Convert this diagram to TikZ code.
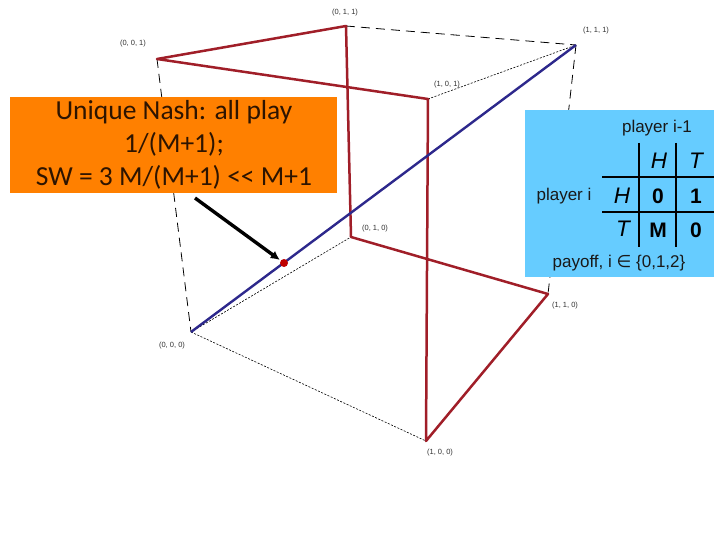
\documentclass[tikz,border=0pt]{standalone}
\usepackage{fontspec}
\usetikzlibrary{arrows.meta}
\setmainfont{Liberation Sans}
\newfontfamily\calib{Carlito}
\tikzset{
  dashe/.style={draw=black,line width=0.8pt,dash pattern=on 9pt off 6pt},
  dote/.style={draw=black,line width=0.6pt,dash pattern=on 2pt off 1.5pt},
  vlab/.style={font=\fontsize{7.5}{8}\selectfont,text=black!80,inner sep=0pt},
  tline/.style={draw=black,line width=2.3pt},
  cell/.style={inner sep=0pt,anchor=center},
  bcell/.style={cell,font=\fontsize{21}{22}\selectfont\bfseries},
  itcell/.style={cell,font=\fontsize{22.5}{24}\selectfont\itshape},
  ptxt/.style={font=\fontsize{17}{19}\selectfont,inner sep=0pt,text=black!90}
}
\definecolor{edgeRed}{RGB}{160,30,40}
\definecolor{edgeBlue}{RGB}{45,40,140}
\definecolor{boxOrange}{RGB}{255,128,0}
\definecolor{boxBlue}{RGB}{102,204,255}
\definecolor{noteInk}{RGB}{45,20,0}
\begin{document}
\begin{tikzpicture}[x=1pt,y=-1pt]
\useasboundingbox[fill=white] (0,0) rectangle (720,540);
\coordinate (A) at (157,59);
\coordinate (B) at (346,26);
\coordinate (C) at (576,45);
\coordinate (D) at (428,99);
\coordinate (E) at (351,237);
\coordinate (F) at (548,294);
\coordinate (G) at (426,441);
\coordinate (O) at (191,332);
% thin box edges
\draw[dashe] (A) -- (O);
\draw[dashe] (B) -- (C);
\draw[dashe] (C) -- (F);
\draw[dote] (D) -- (C);
\draw[dote] (O) -- (E);
\draw[dote] (O) -- (G);
% red edges
\draw[draw=edgeRed,line width=2.5pt,line join=round] (A) -- (B) -- (E) -- (F) -- (G) -- (D) -- cycle;
% blue diagonal
\draw[draw=edgeBlue,line width=2.4pt] (O) -- (C);
% vertex labels
\node[vlab] (lB) at (345,13) {(0, 1, 1)};
\node[vlab] (lC) at (596,31) {(1, 1, 1)};
\node[vlab] (lA) at (133,44) {(0, 0, 1)};
\node[vlab] (lD) at (447,85) {(1, 0, 1)};
\node[vlab] (lE) at (375,229) {(0, 1, 0)};
\node[vlab] (lF) at (565,306) {(1, 1, 0)};
\node[vlab] (lO) at (172,346) {(0, 0, 0)};
\node[vlab] (lG) at (440,453) {(1, 0, 0)};
% orange box
\node[fill=boxOrange,minimum width=327pt,minimum height=96pt,inner sep=0pt,anchor=north west] (note) at (10,97) {};
\node[font=\calib\fontsize{27.5}{33.2}\selectfont,align=center,inner sep=0pt,text=noteInk] (notetxt) at (174,145) {Unique Nash: all play\\1/(M+1);\\SW = 3 M/(M+1) << M+1};
% arrow + dot
\node[circle,fill=red!75!black,minimum size=8pt,inner sep=0pt] (dot) at (284,263) {};
\coordinate (arrstart) at (195,198);
\draw[line width=3.4pt,-{Latex[length=9pt,width=9pt]},shorten >=1pt] (arrstart) -- (dot);
% blue box
\node[fill=boxBlue,minimum width=189pt,minimum height=167pt,inner sep=0pt,anchor=north west] (pay) at (525,110) {};
\coordinate (v1t) at (639,143); \coordinate (v1b) at (639,247);
\coordinate (v2t) at (676,143); \coordinate (v2b) at (676,247);
\coordinate (h1l) at (602,177); \coordinate (h1r) at (714,177);
\coordinate (h2l) at (602,212); \coordinate (h2r) at (714,212);
\draw[tline] (v1t) -- (v1b);
\draw[tline] (v2t) -- (v2b);
\draw[tline] (h1l) -- (h1r);
\draw[tline] (h2l) -- (h2r);
\node[ptxt] (p1) at (657,128) {player i-1};
\node[ptxt] (p2) at (564,196) {player i};
\node[ptxt] (p3) at (619,263) {payoff, i {\fontspec{DejaVu Sans}∈} \{0,1,2\}};
\node[itcell] (cH) at (659,161) {H};
\node[itcell] (cT) at (696,161) {T};
\node[itcell] (rH) at (622,196) {H};
\node[itcell] (rT) at (623,229) {T};
\node[bcell] (c00) at (658,196) {0};
\node[bcell] (c01) at (696,196) {1};
\node[bcell] (c10) at (658,230) {M};
\node[bcell] (c11) at (696,230) {0};
\end{tikzpicture}
\end{document}
